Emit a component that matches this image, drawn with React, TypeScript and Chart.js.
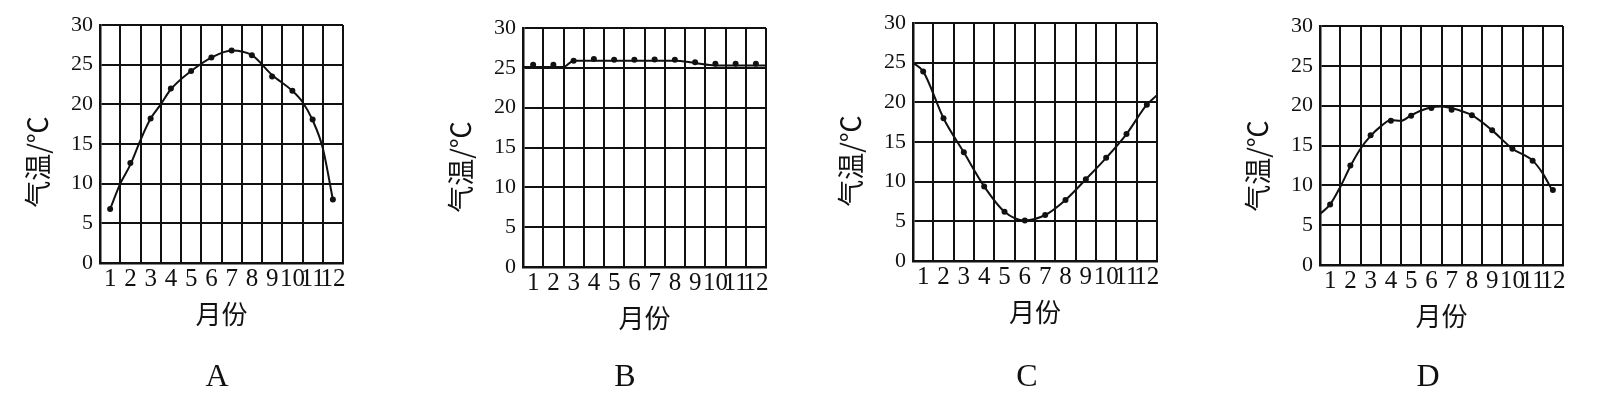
import React, { useEffect, useRef } from 'react';
import { Chart, registerables } from 'chart.js';

Chart.register(...registerables);

// ---------------- data ----------------
const months = ['1', '2', '3', '4', '5', '6', '7', '8', '9', '10', '11', '12'];
const yTickValues = [0, 5, 10, 15, 20, 25, 30];
const xTitleText = '月份';
const yTitleText = '气温/℃';

// A
const dotsA = [6.8, 12.6, 18.2, 22.0, 24.2, 25.9, 26.8, 26.2, 23.5, 21.7, 18.1, 8.0];
const curveXA = [1, 1.5, 2, 2.5, 3, 3.5, 4, 5, 6, 7, 8, 9, 10, 10.5, 11, 11.5, 12];
const curveYA = [6.8, 10.0, 12.4, 15.5, 18.2, 20.0, 21.9, 24.2, 25.9, 26.8, 26.2, 23.7, 21.7, 20.3, 18.0, 14.5, 8.0];

// B
const dotsB = [25.4, 25.4, 25.9, 26.1, 26.0, 26.0, 26.05, 26.0, 25.7, 25.5, 25.5, 25.5];
const curveXB = [0.5, 2.5, 3, 8, 9, 10, 12.5];
const curveYB = [25.1, 25.1, 25.9, 25.9, 25.6, 25.3, 25.3];

// C
const dotsC = [23.9, 18.0, 13.7, 9.4, 6.2, 5.1, 5.8, 7.7, 10.3, 13.0, 16.0, 19.7];
const curveXC = [0.5, 1, 2, 3, 4, 5, 6, 7, 8, 9, 10, 11, 12, 12.5];
const curveYC = [25.0, 23.9, 18.0, 13.7, 9.4, 6.2, 5.1, 5.8, 7.7, 10.3, 13.0, 16.0, 19.7, 20.9];

// D
const dotsD = [7.6, 12.5, 16.3, 18.1, 18.75, 19.7, 19.5, 18.8, 16.9, 14.6, 13.1, 9.4];
const curveXD = [0.5, 1, 1.5, 2, 2.5, 3, 3.5, 4, 4.5, 5, 5.5, 6, 6.5, 7, 7.5, 8, 9, 10, 11, 11.5, 12];
const curveYD = [6.4, 7.6, 9.8, 12.4, 14.6, 16.2, 17.4, 18.2, 18.1, 18.8, 19.4, 19.8, 19.9, 19.7, 19.3, 18.8, 16.9, 14.6, 13.1, 11.5, 9.2];

// ---------------- layout ----------------
type Panel = {
  letter: string;
  dots: number[];
  curveX: number[];
  curveY: number[];
  plotLeft: number;
  plotRight: number;
  plotTop: number;
  plotBottom: number;
  letterX: number;
  yTitleY: number;
};

const panels: Panel[] = [
  { letter: 'A', dots: dotsA, curveX: curveXA, curveY: curveYA, plotLeft: 100, plotRight: 343, plotTop: 25, plotBottom: 263, letterX: 217, yTitleY: 162 },
  { letter: 'B', dots: dotsB, curveX: curveXB, curveY: curveYB, plotLeft: 523, plotRight: 766, plotTop: 28, plotBottom: 267, letterX: 625, yTitleY: 167 },
  { letter: 'C', dots: dotsC, curveX: curveXC, curveY: curveYC, plotLeft: 913, plotRight: 1157, plotTop: 23, plotBottom: 261, letterX: 1027, yTitleY: 161 },
  { letter: 'D', dots: dotsD, curveX: curveXD, curveY: curveYD, plotLeft: 1320, plotRight: 1563, plotTop: 26, plotBottom: 265, letterX: 1428, yTitleY: 166 },
];

const H = 399;
const LEFT_PAD = 22;
const Y_AXIS_W = 78;
const RIGHT_PAD = 30;
const X_AXIS_H = 67;
const TITLE_SIZE = 32;
const TITLE_LH = TITLE_SIZE * 1.2;
const TITLE_CENTER_Y = 378;
const INK = '#111111';

const monthX = months.map((_, i) => i + 1);
const boundaryX = [0, ...months].map((_, i) => i + 0.5);
const xTickValues = [...monthX, ...boundaryX].sort((a, b) => a - b);

function PanelChart({ p }: { p: Panel }) {
  const ref = useRef<HTMLCanvasElement>(null);
  const canvasLeft = p.plotLeft - LEFT_PAD - Y_AXIS_W;
  const width = p.plotRight - p.plotLeft + LEFT_PAD + Y_AXIS_W + RIGHT_PAD;

  useEffect(() => {
    if (!ref.current) return;
    const dx = p.letterX - (p.plotLeft + p.plotRight) / 2;
    const dy = p.yTitleY - (p.plotTop + p.plotBottom) / 2;
    const titlePadTop = TITLE_CENTER_Y - TITLE_LH / 2 - (p.plotBottom + X_AXIS_H);
    const bottomPad = H - TITLE_CENTER_Y - TITLE_LH / 2;

    const shiftPlugin = {
      id: 'shiftText' + p.letter,
      afterLayout(chart: any) {
        const tb = chart.titleBlock;
        if (tb) {
          tb.left += dx;
          tb.right += dx;
        }
        const ys = chart.scales.y;
        if (ys && !ys.__patched) {
          const orig = ys.drawTitle;
          ys.drawTitle = function () {
            this.ctx.save();
            this.ctx.translate(0, dy);
            orig.call(this);
            this.ctx.restore();
          };
          ys.__patched = true;
        }
      },
    };

    const chart = new Chart(ref.current, {
      type: 'scatter',
      data: {
        datasets: [
          {
            data: p.curveX.map((x, i) => ({ x, y: p.curveY[i] })),
            showLine: true,
            borderColor: INK,
            borderWidth: 2,
            pointRadius: 0,
            cubicInterpolationMode: 'monotone',
            fill: false,
          },
          {
            data: monthX.map((x, i) => ({ x, y: p.dots[i] })),
            showLine: false,
            pointRadius: 3,
            pointBackgroundColor: INK,
            pointBorderWidth: 0,
            pointBorderColor: INK,
          },
        ],
      },
      options: {
        responsive: false,
        animation: false,
        devicePixelRatio: 1,
        events: [],
        layout: { padding: { left: LEFT_PAD, right: RIGHT_PAD, top: p.plotTop, bottom: bottomPad } },
        plugins: {
          legend: { display: false },
          tooltip: { enabled: false },
          title: {
            display: true,
            text: p.letter,
            position: 'bottom',
            fullSize: false,
            color: INK,
            font: { family: "'Liberation Serif', serif", size: TITLE_SIZE, weight: 'normal', lineHeight: 1.2 },
            padding: { top: titlePadTop, bottom: 0 },
          },
        },
        scales: {
          x: {
            type: 'linear',
            min: 0.5,
            max: 12.5,
            afterBuildTicks: (s: any) => {
              s.ticks = xTickValues.map((v) => ({ value: v }));
            },
            afterFit: (s: any) => {
              s.height = X_AXIS_H;
            },
            grid: {
              color: (ctx: any) => (ctx.tick && Number.isInteger(ctx.tick.value) ? 'rgba(0,0,0,0)' : INK),
              lineWidth: 2,
              drawTicks: false,
            },
            border: { color: INK, width: 2.5 },
            ticks: {
              autoSkip: false,
              maxRotation: 0,
              minRotation: 0,
              padding: 1,
              color: INK,
              font: { family: "'Liberation Serif', serif", size: 25, lineHeight: 1.2 },
              callback: (value: any) => {
                const i = monthX.indexOf(Number(value));
                return i >= 0 ? months[i] : '';
              },
            },
            title: {
              display: true,
              text: xTitleText,
              color: INK,
              font: { family: "'Noto Sans CJK SC', sans-serif", size: 26, lineHeight: 1.2 },
              padding: { top: 0, bottom: 0 },
            },
          },
          y: {
            type: 'linear',
            min: 0,
            max: 30,
            afterBuildTicks: (s: any) => {
              s.ticks = yTickValues.map((v) => ({ value: v }));
            },
            afterFit: (s: any) => {
              s.width = Y_AXIS_W;
            },
            grid: { color: INK, lineWidth: 2, drawTicks: false },
            border: { color: INK, width: 2.5 },
            ticks: {
              padding: 7,
              color: INK,
              font: { family: "'Liberation Serif', serif", size: 22, lineHeight: 1.2 },
            },
            title: {
              display: true,
              text: yTitleText,
              color: INK,
              font: { family: "'Noto Sans CJK SC', sans-serif", size: 27, lineHeight: 1.2 },
              padding: { top: 0, bottom: 0 },
            },
          },
        },
      } as any,
      plugins: [shiftPlugin as any],
    });
    return () => chart.destroy();
  }, []);

  return (
    <canvas
      ref={ref}
      width={width}
      height={H}
      style={{ position: 'absolute', left: canvasLeft, top: 0, width, height: H, display: 'block' }}
    />
  );
}

export default function App() {
  return (
    <div style={{ position: 'absolute', left: 0, top: 0, width: 1606, height: H, background: '#fff', overflow: 'hidden' }}>
      {panels.map((p) => (
        <PanelChart key={p.letter} p={p} />
      ))}
    </div>
  );
}
